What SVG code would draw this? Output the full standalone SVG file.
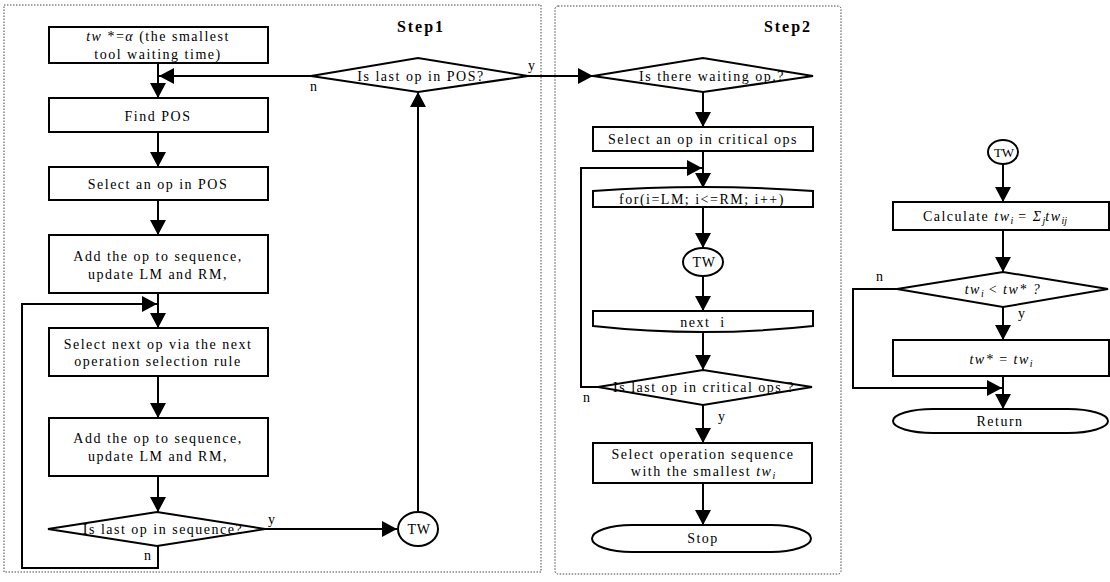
<svg xmlns="http://www.w3.org/2000/svg" width="1110" height="582" viewBox="0 0 1110 582">
<style>
.panel{fill:none;stroke:#444;stroke-width:1;stroke-dasharray:1.5 1.5}
.box{fill:#fff;stroke:#000;stroke-width:2}
.ln{fill:none;stroke:#000;stroke-width:2}
.t{font-family:"Liberation Serif","Times New Roman",serif;font-size:14px;letter-spacing:1.5px;text-anchor:middle;fill:#000}
.lb{font-family:"Liberation Serif","Times New Roman",serif;font-size:14px;fill:#000}
.title{font-family:"Liberation Serif","Times New Roman",serif;font-size:16px;font-weight:bold;letter-spacing:2px;text-anchor:middle;fill:#000}
.it{font-style:italic}
.sub{font-size:10px;letter-spacing:0}
</style>
<defs>
<marker id="ah" viewBox="0 0 15 16" refX="15" refY="8" markerWidth="15" markerHeight="16" markerUnits="userSpaceOnUse" orient="auto"><path d="M0,0 L15,8 L0,16 Z" fill="#000"/></marker>
</defs>
<rect class="panel" x="4" y="5" width="537" height="567"/>
<rect class="panel" x="555" y="6" width="286" height="568" rx="3"/>
<text class="title" x="421" y="32">Step1</text>
<text class="title" x="788" y="32">Step2</text>

<g id="connectors">
<path class="ln" d="M158,63 V98" marker-end="url(#ah)"/>
<path class="ln" d="M311,76 H159" marker-end="url(#ah)"/>
<path class="ln" d="M158,132 V167" marker-end="url(#ah)"/>
<path class="ln" d="M158,200 V235" marker-end="url(#ah)"/>
<path class="ln" d="M158,293 V328" marker-end="url(#ah)"/>
<path class="ln" d="M158,376 V418" marker-end="url(#ah)"/>
<path class="ln" d="M158,476 V512" marker-end="url(#ah)"/>
<path class="ln" d="M265,529 H397" marker-end="url(#ah)"/>
<path class="ln" d="M158,546 V568 H22 V304 H157" marker-end="url(#ah)"/>
<path class="ln" d="M418,512 V92" marker-end="url(#ah)"/>
<path class="ln" d="M528,76 H593" marker-end="url(#ah)"/>
<path class="ln" d="M703,92 V127" marker-end="url(#ah)"/>
<path class="ln" d="M703,151 V188" marker-end="url(#ah)"/>
<path class="ln" d="M703,207 V248" marker-end="url(#ah)"/>
<path class="ln" d="M703,276 V311" marker-end="url(#ah)"/>
<path class="ln" d="M703,333 V370" marker-end="url(#ah)"/>
<path class="ln" d="M598,387 H581 V168 H702" marker-end="url(#ah)"/>
<path class="ln" d="M703,405 V443" marker-end="url(#ah)"/>
<path class="ln" d="M703,483 V525" marker-end="url(#ah)"/>
<path class="ln" d="M1003,164 V202" marker-end="url(#ah)"/>
<path class="ln" d="M1003,230 V272" marker-end="url(#ah)"/>
<path class="ln" d="M1003,307 V340" marker-end="url(#ah)"/>
<path class="ln" d="M897,289 H853 V388 H1002" marker-end="url(#ah)"/>
<path class="ln" d="M1003,376 V409" marker-end="url(#ah)"/>
<text class="lb" x="310" y="91">n</text>
<text class="lb" x="528" y="70">y</text>
<text class="lb" x="144" y="560">n</text>
<text class="lb" x="268" y="524">y</text>
<text class="lb" x="583" y="402">n</text>
<text class="lb" x="718" y="421">y</text>
<text class="lb" x="876" y="281">n</text>
<text class="lb" x="1018" y="318">y</text>
</g>

<g id="init">
<rect class="box" x="49" y="27" width="219" height="36"/>
<text class="t" x="158" y="41"><tspan class="it">tw</tspan> *=<tspan class="it">α</tspan> (the smallest</text>
<text class="t" x="158" y="59">tool waiting time)</text>
</g>
<g id="findpos">
<rect class="box" x="49" y="98" width="219" height="34"/>
<text class="t" x="158" y="121">Find POS</text>
</g>
<g id="selectpos">
<rect class="box" x="49" y="167" width="219" height="33"/>
<text class="t" x="158" y="189">Select an op in POS</text>
</g>
<g id="add1">
<rect class="box" x="49" y="235" width="219" height="58"/>
<text class="t" x="158" y="261">Add the op to sequence,</text>
<text class="t" x="158" y="279">update LM and RM,</text>
</g>
<g id="selectnext">
<rect class="box" x="49" y="328" width="219" height="48"/>
<text class="t" x="158" y="349">Select next op via the next</text>
<text class="t" x="158" y="366">operation selection rule</text>
</g>
<g id="add2">
<rect class="box" x="49" y="418" width="219" height="58"/>
<text class="t" x="158" y="443">Add the op to sequence,</text>
<text class="t" x="158" y="461">update LM and RM,</text>
</g>
<g id="lastseq">
<polygon class="box" points="48,529 157,512 265,529 157,546"/>
<text class="t" x="163" y="534">Is last op in sequence?</text>
</g>
<g id="tw1">
<ellipse class="box" cx="418" cy="529" rx="20" ry="17"/>
<text class="t" x="419" y="534" style="letter-spacing:0.5px">TW</text>
</g>
<g id="lastpos">
<polygon class="box" points="311,76 418,58 528,76 418,92"/>
<text class="t" x="421" y="81">Is last op in POS?</text>
</g>

<g id="waiting">
<polygon class="box" points="593,76 703,58 813,76 703,92"/>
<text class="t" x="712" y="81">Is there waiting op.?</text>
</g>
<g id="selectcrit">
<rect class="box" x="593" y="127" width="220" height="24"/>
<text class="t" x="703" y="144">Select an op in critical ops</text>
</g>
<g id="forloop">
<path class="box" d="M593,207 V191 Q703,183 813,191 V207 Z"/>
<text class="t" x="702" y="204">for(i=LM; i&lt;=RM; i++)</text>
</g>
<g id="tw2">
<ellipse class="box" cx="703" cy="262" rx="20" ry="14"/>
<text class="t" x="704" y="267" style="letter-spacing:0.5px">TW</text>
</g>
<g id="nexti">
<path class="box" d="M593,311 H813 V326 Q703,338 593,326 Z"/>
<text class="t" x="703" y="327" xml:space="preserve">next  i</text>
</g>
<g id="lastcrit">
<polygon class="box" points="598,387 703,370 812,387 703,405"/>
<text class="t" x="704" y="392">Is last op in critical ops ?</text>
</g>
<g id="selectseq">
<rect class="box" x="593" y="443" width="219" height="40"/>
<text class="t" x="703" y="459">Select operation sequence</text>
<text class="t" x="703" y="476">with the smallest <tspan class="it">tw</tspan><tspan class="sub it" dy="3">i</tspan></text>
</g>
<g id="stop">
<rect class="box" x="592" y="525" width="219" height="27" rx="40" ry="13.5"/>
<text class="t" x="703" y="543">Stop</text>
</g>

<g id="tw3">
<ellipse class="box" cx="1003" cy="152" rx="15" ry="12"/>
<text class="t" x="1004" y="157" style="letter-spacing:0;font-size:13px">TW</text>
</g>
<g id="calc">
<rect class="box" x="893" y="202" width="216" height="28"/>
<text class="t" x="995" y="221">Calculate <tspan class="it">tw</tspan><tspan class="sub it" dy="3">i</tspan><tspan dy="-3"> = </tspan><tspan class="it">Σ</tspan><tspan class="sub it" dy="3">j</tspan><tspan class="it" dy="-3">tw</tspan><tspan class="sub it" dy="3">ij</tspan></text>
</g>
<g id="cmp">
<polygon class="box" points="897,289 1003,272 1108,289 1003,307"/>
<text class="t" x="1003" y="294"><tspan class="it">tw</tspan><tspan class="sub it" dy="3">i</tspan><tspan dy="-3"> &lt; </tspan><tspan class="it">tw* ?</tspan></text>
</g>
<g id="assign">
<rect class="box" x="893" y="340" width="216" height="36"/>
<text class="t" x="1001" y="364"><tspan class="it">tw*</tspan> = <tspan class="it">tw</tspan><tspan class="sub it" dy="3">i</tspan></text>
</g>
<g id="return">
<rect class="box" x="893" y="409" width="215" height="24" rx="40" ry="12"/>
<text class="t" x="1000" y="426">Return</text>
</g>
</svg>
